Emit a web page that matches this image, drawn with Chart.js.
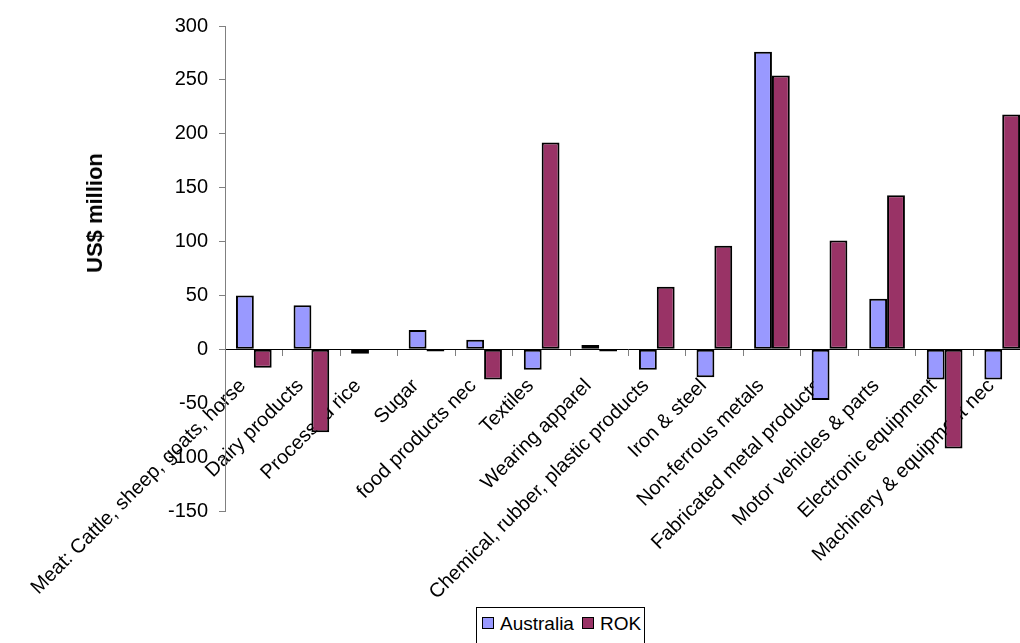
<!DOCTYPE html>
<html>
<head>
<meta charset="utf-8">
<script src="https://cdn.jsdelivr.net/npm/chart.js@4/dist/chart.umd.min.js"></script>
<style>
  html, body { margin: 0; padding: 0; background: #fff; overflow: hidden; }
  #wrap { position: relative; width: 1020px; height: 643px; overflow: hidden; font-family: Arial, "Liberation Sans", sans-serif; }
  #yTitle {
    position: absolute; left: 95px; top: 213px;
    transform: translate(-50%, -50%) rotate(-90deg);
    font-weight: bold; font-size: 22px; white-space: nowrap; color: #000;
  }
  #legend {
    position: absolute; left: 476px; top: 607px; width: 169px; height: 40px;
    border: 1px solid #000; box-sizing: border-box; background: #fff;
    font-size: 19px; color: #000; padding: 5px 0 0 5px; white-space: nowrap;
  }
  #legend span.box { display: inline-block; width: 10px; height: 10px; border: 1px solid #000; margin-right: 6px; vertical-align: 1px; }
  #legend span.item { margin-right: 8px; }
</style>
</head>
<body>
<div id="wrap">
  <!-- plot runs a little past the right edge, as in the original -->
  <canvas id="chart" width="1031" height="643"></canvas>
  <div id="yTitle">US$ million</div>
  <div id="legend"></div>
</div>
<script>
// =============================
// DATA
// =============================
const categories = [
  "Meat: Cattle, sheep, goats, horse",
  "Dairy products",
  "Processed rice",
  "Sugar",
  "food products nec",
  "Textiles",
  "Wearing apparel",
  "Chemical, rubber, plastic products",
  "Iron & steel",
  "Non-ferrous metals",
  "Fabricated metal products",
  "Motor vehicles & parts",
  "Electronic equipment",
  "Machinery & equipment nec"
];

const australia = [50, 41, -4, 18, 9, -19, 4, -19, -26, 276, -47, 47, -28, -28];
const rok = [-17, -77, 0, -2, -28, 192, -2, 58, 96, 254, 101, 143, -92, 218];

const seriesNames = ["Australia", "ROK"];
const seriesColors = ["#9999FF", "#993366"];

const yMin = -150;
const yMax = 300;
const yStep = 50;

// =============================
// LEGEND (html)
// =============================
document.getElementById("legend").innerHTML = seriesNames.map((n, i) =>
  `<span class="item"><span class="box" style="background:${seriesColors[i]}"></span>${n}</span>`
).join("");

// =============================
// CHART
// =============================
const ctx = document.getElementById("chart").getContext("2d");
const fontFamily = "Arial, 'Liberation Sans', sans-serif";

new Chart(ctx, {
  type: "bar",
  data: {
    labels: categories,
    datasets: [
      {
        label: seriesNames[0],
        data: australia,
        backgroundColor: seriesColors[0],
        borderColor: "#000",
        borderWidth: 2,
        borderSkipped: false
      },
      {
        label: seriesNames[1],
        data: rok,
        backgroundColor: seriesColors[1],
        borderColor: "#000",
        borderWidth: 2,
        borderSkipped: false
      }
    ]
  },
  options: {
    responsive: false,
    animation: false,
    layout: {
      padding: { left: 157, right: 0, top: 26, bottom: 132 }
    },
    datasets: {
      bar: { barPercentage: 1, categoryPercentage: 0.62 }
    },
    plugins: {
      legend: { display: false },
      tooltip: { enabled: false }
    },
    scales: {
      x: {
        position: { y: 0 },
        offset: true,
        grid: {
          offset: true,
          drawOnChartArea: false,
          drawTicks: true,
          // long tick length only pushes the labels down; the dash keeps the visible tick short
          tickLength: 25,
          tickBorderDash: [6, 40],
          color: "#808080"
        },
        border: { color: "#000", width: 1 },
        ticks: {
          autoSkip: false,
          maxRotation: 45,
          minRotation: 45,
          labelOffset: -11,
          padding: 0,
          color: "#000",
          font: { family: fontFamily, size: 20 }
        }
      },
      y: {
        min: yMin,
        max: yMax,
        grid: {
          drawOnChartArea: false,
          drawTicks: true,
          tickLength: 6,
          color: "#808080"
        },
        border: { color: "#808080", width: 1 },
        ticks: {
          stepSize: yStep,
          padding: 11,
          color: "#000",
          font: { family: fontFamily, size: 20 }
        }
      }
    }
  }
});
</script>
</body>
</html>
